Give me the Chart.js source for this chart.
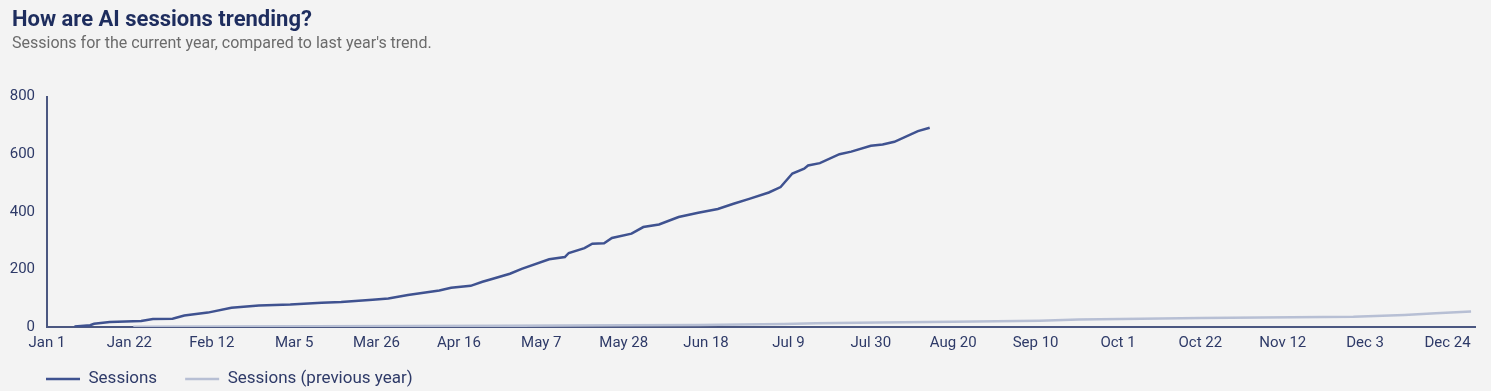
<!DOCTYPE html>
<html>
<head>
<meta charset="utf-8">
<script src="https://cdn.jsdelivr.net/npm/chart.js@4.4.1/dist/chart.umd.min.js"></script>
<style>
  html, body { margin: 0; padding: 0; background: #f3f3f3; }
  #wrap { width: 1491px; height: 391px; position: relative; }
</style>
</head>
<body>
<div id="wrap"><canvas id="c"></canvas></div>
<script>
// Day-of-year index (0 = Jan 1) for each tick label
const tickLabels = ['Jan 1','Jan 22','Feb 12','Mar 5','Mar 26','Apr 16','May 7','May 28','Jun 18','Jul 9','Jul 30','Aug 20','Sep 10','Oct 1','Oct 22','Nov 12','Dec 3','Dec 24'];
const tickDays = [0,21,42,63,84,105,126,147,168,189,210,231,252,273,294,315,336,357];

// Sessions (current year)
const sessionDays   = [7,11,12,16,20,24,27,32,35,41,47,54,62,70,75,83,87,92,100,103,108,111,113,118,121,128,132,133,137,139,142,144,149,152,156,161,166,171,175,179,184,187,190,193,194,197,202,205,210,213,216,222,225];
const sessionValues = [2,6,11,17,19,21,28,29,40,50,67,75,78,84,87,95,99,111,127,136,143,157,165,185,202,235,243,257,274,289,291,309,324,347,356,382,397,410,428,445,467,486,533,550,561,569,600,609,629,634,643,680,692];

// Sessions (previous year)
const prevDays   = [22,68,115,147,166,188,196,212,231,253,263,279,294,333,346,354,363];
const prevValues = [1,3,4,6,7,10,13,16,18,22,26,29,31,36,42,48,54];

const toPoints = (xs, ys) => xs.map((x, i) => ({ x: x, y: ys[i] }));

const axisColor = '#4b5781';
const tickColor = '#2e3a68';

// Places the built-in legend box where the reference has it
const legendNudge = {
  id: 'legendNudge',
  afterLayout(chart) {
    const lg = chart.legend;
    if (!lg) return;
    lg.top = 342.5; lg.bottom = chart.height;
    lg.left = 18; lg.right = chart.width;
  }
};

new Chart(document.getElementById('c'), {
  type: 'line',
  data: {
    datasets: [
      {
        label: 'Sessions',
        data: toPoints(sessionDays, sessionValues),
        borderColor: '#3f5290',
        backgroundColor: '#3f5290',
        borderWidth: 2.5,
        pointRadius: 0,
        tension: 0
      },
      {
        label: 'Sessions (previous year)',
        data: toPoints(prevDays, prevValues),
        borderColor: '#b7bfd4',
        backgroundColor: '#b7bfd4',
        borderWidth: 2.5,
        pointRadius: 0,
        tension: 0
      }
    ]
  },
  plugins: [legendNudge],
  options: {
    responsive: true,
    maintainAspectRatio: false,
    animation: false,
    events: [],
    layout: { padding: { left: 12, right: 16, top: 0, bottom: 0 } },
    plugins: {
      title: {
        display: true,
        text: 'How are AI sessions trending?',
        align: 'start',
        color: '#1e2d5e',
        font: { family: 'Roboto', size: 22, weight: 'bold' },
        padding: { top: 7, bottom: 0 }
      },
      subtitle: {
        display: true,
        text: "Sessions for the current year, compared to last year's trend.",
        align: 'start',
        color: '#6b6b6b',
        font: { family: 'Roboto', size: 16 },
        padding: { top: 1, bottom: 43 }
      },
      legend: {
        display: true,
        position: 'bottom',
        align: 'start',
        maxHeight: 32,
        labels: {
          usePointStyle: true,
          pointStyle: 'line',
          pointStyleWidth: 34,
          boxHeight: 17,
          padding: 28,
          color: tickColor,
          font: { family: 'Roboto', size: 17 }
        }
      },
      tooltip: { enabled: false }
    },
    scales: {
      x: {
        type: 'linear',
        min: 0,
        max: 364,
        afterBuildTicks: (axis) => { axis.ticks = tickDays.map(v => ({ value: v })); },
        grid: { display: false, drawTicks: false },
        border: { display: true, color: axisColor, width: 2 },
        ticks: {
          autoSkip: false,
          maxRotation: 0,
          padding: 7,
          color: tickColor,
          font: { family: 'Roboto', size: 15 },
          callback: (v) => { const i = tickDays.indexOf(v); return i >= 0 ? tickLabels[i] : ''; }
        }
      },
      y: {
        min: 0,
        max: 800,
        afterFit: (axis) => { axis.width = 35; axis._computeLabelArea = () => undefined; },
        grid: { display: false, drawTicks: false },
        border: { display: true, color: axisColor, width: 2 },
        ticks: {
          stepSize: 200,
          padding: 12,
          color: tickColor,
          font: { family: 'Roboto', size: 15 }
        }
      }
    }
  }
});
</script>
</body>
</html>
